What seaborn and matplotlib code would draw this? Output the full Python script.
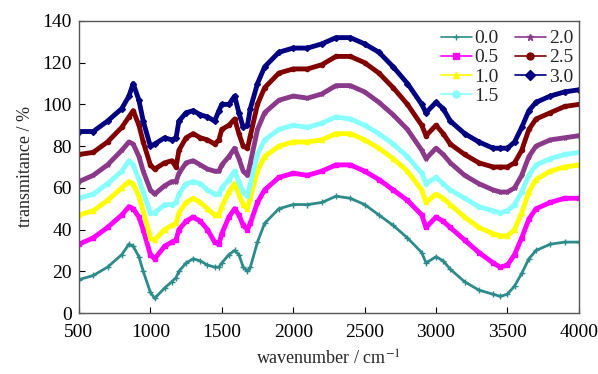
import numpy as np
import pandas as pd
import matplotlib
matplotlib.use("Agg")
import matplotlib.pyplot as plt
from matplotlib.lines import Line2D
import seaborn as sns

wavenumber = [500, 600, 700, 800, 850, 880, 920, 950, 1000, 1030, 1100, 1150, 1180, 1200,
              1250, 1300, 1350, 1400, 1450, 1480, 1500, 1550, 1590, 1620, 1650, 1680, 1700,
              1750, 1800, 1900, 2000, 2100, 2200, 2300, 2400, 2500, 2600, 2700, 2800, 2900,
              2930, 3000, 3050, 3100, 3200, 3300, 3400, 3450, 3500, 3550, 3600, 3650, 3700,
              3800, 3900, 4000]

t_00 = [16, 18, 22, 28, 33, 32, 27, 20, 10, 7, 12, 15, 17, 20,
        24, 26, 25, 23, 22, 22, 24, 28, 30, 28, 22, 20, 22,
        34, 43, 50, 52, 52, 53, 56, 55, 52, 47, 42, 36, 29,
        24, 27, 25, 21, 15, 11, 9, 8, 9, 13, 19, 26, 30,
        33, 34, 34]
t_05 = [33, 36, 41, 47, 51, 50, 46, 40, 28, 26, 32, 34, 35, 40,
        44, 46, 44, 40, 34, 33, 38, 46, 50, 47, 42, 40, 43,
        53, 59, 65, 67, 66, 68, 71, 71, 68, 64, 59, 54, 47,
        41, 46, 44, 41, 35, 29, 24, 22, 23, 28, 36, 45, 50,
        53, 55, 55]
t_10 = [47, 49, 54, 60, 63, 62, 56, 49, 36, 35, 40, 42, 43, 48,
        53, 55, 53, 50, 47, 47, 51, 58, 62, 57, 52, 50, 55,
        68, 75, 80, 82, 82, 83, 86, 86, 83, 79, 74, 68, 59,
        53, 57, 55, 52, 46, 41, 38, 37, 37, 40, 48, 58, 64,
        68, 70, 71]
t_15 = [55, 57, 62, 68, 73, 71, 64, 58, 48, 48, 52, 52, 53, 57,
        62, 63, 62, 59, 57, 57, 60, 64, 68, 63, 58, 56, 62,
        76, 83, 88, 90, 89, 91, 94, 93, 90, 86, 81, 75, 67,
        62, 65, 62, 59, 55, 51, 49, 48, 49, 52, 58, 66, 71,
        74, 76, 77]
t_20 = [63, 66, 71, 78, 82, 81, 75, 68, 59, 57, 61, 63, 63, 67,
        72, 73, 71, 69, 68, 68, 71, 75, 79, 74, 68, 66, 72,
        88, 96, 102, 104, 103, 105, 109, 109, 106, 101, 95, 88, 78,
        74, 79, 76, 72, 66, 62, 59, 58, 58, 60, 66, 75, 80,
        83, 84, 85]
t_25 = [76, 77, 82, 89, 94, 97, 90, 82, 71, 69, 72, 73, 70, 78,
        84, 86, 84, 83, 81, 83, 88, 90, 93, 86, 80, 79, 85,
        100, 108, 115, 117, 117, 119, 123, 123, 120, 115, 108, 100, 90,
        85, 90, 86, 81, 76, 72, 70, 70, 70, 72, 78, 88, 93,
        96, 99, 100]
t_30 = [87, 87, 92, 98, 104, 110, 102, 92, 80, 81, 84, 83, 84, 92,
        96, 97, 95, 94, 92, 97, 100, 100, 104, 96, 89, 90, 98,
        110, 118, 125, 127, 127, 129, 132, 132, 129, 125, 118, 110, 100,
        96, 101, 98, 92, 86, 82, 79, 79, 79, 82, 89, 97, 101,
        104, 106, 107]

labels = ["0.0", "0.5", "1.0", "1.5", "2.0", "2.5", "3.0"]
series = [t_00, t_05, t_10, t_15, t_20, t_25, t_30]
colors = ["#2e8b8b", "#ff00ff", "#ffff00", "#88ffff", "#8b3a8b", "#800000", "#000080"]
markers = ["+", "s", "^", "o", "*", "o", "D"]

sns.set_style("ticks")
plt.rcParams["font.family"] = ["Liberation Serif", "DejaVu Serif"]
plt.rcParams["mathtext.fontset"] = "stix"

fig = plt.figure(figsize=(5.98, 3.74), dpi=100)
ax = fig.add_axes([0.132, 0.163, 0.836, 0.781])

for lab, vals, col, mk in zip(labels, series, colors, markers):
    df = pd.DataFrame({"wavenumber": wavenumber, "transmitance": vals})
    lw = 2.0 if lab == "0.0" else 3.5
    sns.lineplot(data=df, x="wavenumber", y="transmitance", ax=ax, color=col,
                 linewidth=lw, marker=mk, markersize=3 if mk != "+" else 5,
                 markeredgecolor=col, markerfacecolor=col, markeredgewidth=1.0,
                 legend=False, sort=False)

ax.set_xlim(500, 4000)
ax.set_ylim(0, 140)
ax.set_xticks(range(500, 4001, 500))
ax.set_yticks(range(0, 141, 20))
ax.tick_params(axis="both", direction="in", length=4, width=0.8, labelsize=14,
               colors="black")
ax.tick_params(axis="x", pad=8)
ax.tick_params(axis="y", pad=5)
for sp in ax.spines.values():
    sp.set_linewidth(1.0)
    sp.set_color("#555555")
ax.set_xlabel("wavenumber / cm$^{-1}$", fontsize=13, labelpad=6)
ax.set_ylabel("transmitance / %", fontsize=13, labelpad=6)

handles = []
for lab, col, mk in zip(labels, colors, markers):
    handles.append(Line2D([0], [0], color=col, lw=1.2, marker=mk, markersize=5,
                          markerfacecolor=col, markeredgecolor=col, label=lab))
leg = ax.legend(handles=handles, ncol=2, loc="upper right", frameon=False,
                fontsize=14, handlelength=1.6, handletextpad=0.15,
                columnspacing=0.8, labelspacing=0.08, borderaxespad=0.1,
                borderpad=0.2, bbox_to_anchor=(1.0, 0.99))

fig.savefig("out.png", dpi=100)
